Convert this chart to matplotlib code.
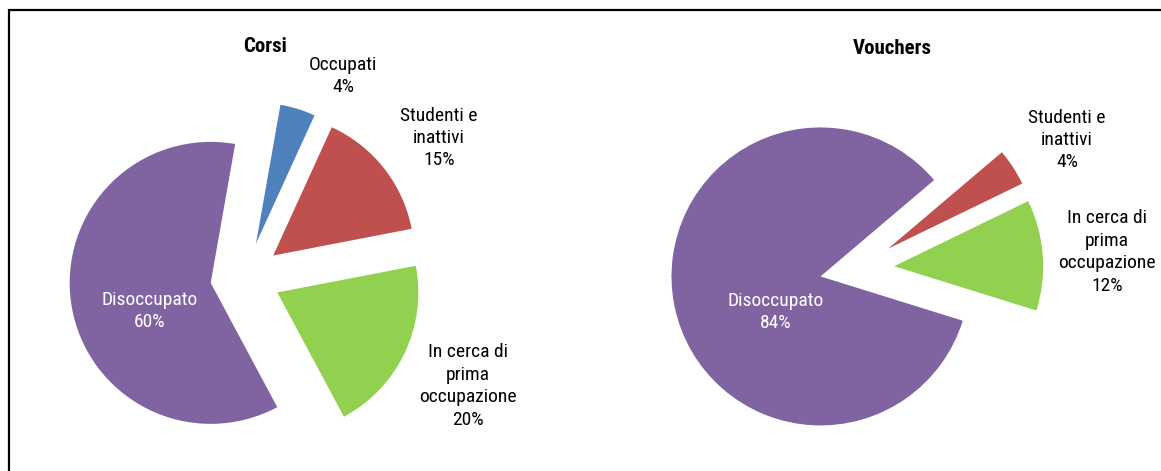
import matplotlib
matplotlib.use("Agg")
import matplotlib.pyplot as plt
from matplotlib.patches import Rectangle

plt.rcParams['font.family'] = ['Roboto Condensed', 'DejaVu Sans']

W, H = 1161, 471

# Corsi
corsi_labels = ["Occupati", "Studenti e\ninattivi", "In cerca di\nprima\noccupazione", "Disoccupato"]
corsi_values = [4, 15, 20, 60]
corsi_colors = ["#4F81BD", "#C0504D", "#92D050", "#8064A2"]

# Vouchers
vouchers_labels = ["Studenti e\ninattivi", "In cerca di\nprima\noccupazione", "Disoccupato"]
vouchers_values = [4, 12, 84]
vouchers_colors = ["#C0504D", "#92D050", "#8064A2"]

# label centres (pixels, from top-left)
corsi_label_pos = [(343, 76), (439, 138), (468, 386), (150, 311)]
vouchers_label_pos = [(1067, 140), (1107, 252), (776, 312)]


def draw_pie(fig, cx, cy, r, values, colors, start):
    half = 1.6
    side = 2 * half * r
    ax = fig.add_axes([(cx - side / 2) / W, (H - cy - side / 2) / H, side / W, side / H])
    ax.pie(values, colors=colors, startangle=start, counterclock=False,
           explode=[0.25] * len(values), radius=1,
           wedgeprops=dict(linewidth=0))
    ax.set_xlim(-half, half)
    ax.set_ylim(-half, half)
    ax.set_aspect('equal')
    ax.axis('off')
    return ax


def put_labels(fig, labels, values, pos):
    for i in range(len(labels)):
        x, y = pos[i]
        col = "white" if labels[i] == "Disoccupato" else "black"
        fig.text(x / W, 1 - y / H, "%s\n%d%%" % (labels[i], values[i]),
                 ha="center", va="center", multialignment="center",
                 fontsize=14, color=col, linespacing=1.32)


fig = plt.figure(figsize=(W / 100, H / 100), dpi=100)

draw_pie(fig, 245.5, 277.3, 141, corsi_values, corsi_colors, 80)
draw_pie(fig, 857, 269, 149, vouchers_values, vouchers_colors, 40.3)

put_labels(fig, corsi_labels, corsi_values, corsi_label_pos)
put_labels(fig, vouchers_labels, vouchers_values, vouchers_label_pos)

fig.text(265 / W, 1 - 46 / H, "Corsi", ha="center", va="center", fontsize=15, fontweight="bold")
fig.text(892 / W, 1 - 48 / H, "Vouchers", ha="center", va="center", fontsize=15, fontweight="bold")

# outer frame (only top and left edges fall inside the picture)
fig.patches.append(Rectangle((9 / W, -0.1), 1.2, 1.1 - 10 / H, transform=fig.transFigure,
                             fill=False, edgecolor="black", linewidth=1.6))

fig.savefig("out.png", dpi=100)
